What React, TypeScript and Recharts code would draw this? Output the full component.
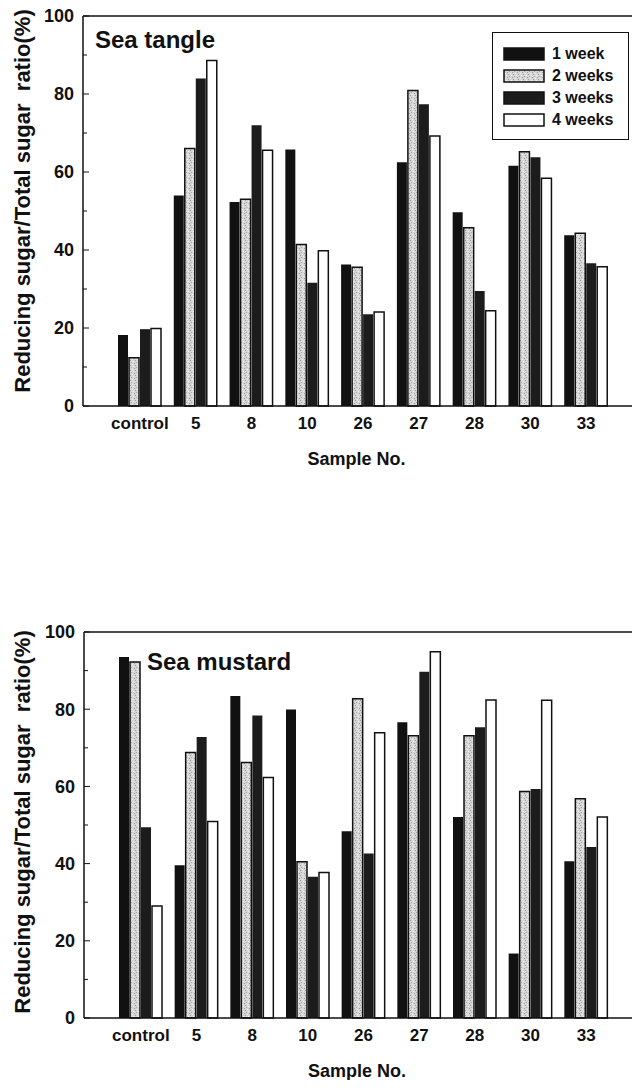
import { BarChart, Bar, XAxis, YAxis, ReferenceLine, Legend } from 'recharts';

const samples = ['control', '5', '8', '10', '26', '27', '28', '30', '33'];
const weekNames = ['1 week', '2 weeks', '3 weeks', '4 weeks'];
const yTicks = [0, 10, 20, 30, 40, 50, 60, 70, 80, 90, 100];

// Sea tangle
const tangleWeek1 = [18.2, 54, 52.3, 65.8, 36.3, 62.5, 49.7, 61.6, 43.8];
const tangleWeek2 = [12.4, 66, 53, 41.4, 35.6, 80.9, 45.7, 65.2, 44.3];
const tangleWeek3 = [19.7, 84, 72, 31.6, 23.5, 77.4, 29.5, 63.8, 36.6];
const tangleWeek4 = [19.9, 88.6, 65.6, 39.8, 24.1, 69.2, 24.4, 58.4, 35.7];

// Sea mustard
const mustardWeek1 = [93.5, 39.6, 83.4, 79.9, 48.4, 76.6, 52.1, 16.7, 40.6];
const mustardWeek2 = [92.2, 68.8, 66.2, 40.5, 82.7, 73.1, 73.1, 58.7, 56.8];
const mustardWeek3 = [49.4, 72.8, 78.4, 36.6, 42.6, 89.7, 75.3, 59.3, 44.3];
const mustardWeek4 = [29, 50.9, 62.3, 37.7, 73.9, 94.9, 82.4, 82.3, 52.1];

const FONT = '"Liberation Sans", Arial, Helvetica, sans-serif';
const INK = '#111';

const seriesStyle = [
  { fill: INK, stroke: 'none', strokeWidth: 0 },
  { fill: 'url(#stipple)', stroke: INK, strokeWidth: 1.5 },
  { fill: '#1c1c1c', stroke: 'none', strokeWidth: 0 },
  { fill: '#fff', stroke: INK, strokeWidth: 1.5 },
];

function buildRows(weeks: number[][]) {
  return samples.map((name, i) => ({
    name,
    w1: weeks[0][i],
    w2: weeks[1][i],
    w3: weeks[2][i],
    w4: weeks[3][i],
  }));
}

function YTick({ x, y, payload }: any) {
  const v = payload.value;
  const major = v % 20 === 0;
  return (
    <g>
      <line x1={x} x2={x + (major ? 6 : 4)} y1={y} y2={y} stroke={INK} strokeWidth={1} />
      {major && (
        <text
          x={x - 9}
          y={y}
          dy="0.36em"
          textAnchor="end"
          fill={INK}
          style={{ fontFamily: FONT, fontWeight: 700, fontSize: 18 }}
        >
          {v}
        </text>
      )}
    </g>
  );
}

function LegendBox() {
  return (
    <div
      style={{
        border: `1.5px solid ${INK}`,
        background: '#fff',
        padding: '10px 0 8px 10px',
        boxSizing: 'border-box',
        width: 137,
        fontFamily: FONT,
        fontWeight: 700,
        fontSize: 16,
        color: INK,
      }}
    >
      {weekNames.map((w, i) => (
        <div key={w} style={{ display: 'flex', alignItems: 'center', height: 22 }}>
          <svg width={42} height={14} style={{ marginRight: 7 }}>
            <rect
              x={1}
              y={1}
              width={40}
              height={12}
              fill={seriesStyle[i].fill}
              stroke={INK}
              strokeWidth={1.5}
            />
          </svg>
          <span>{w}</span>
        </div>
      ))}
    </div>
  );
}

interface PanelProps {
  title: string;
  weeks: number[][];
  height: number;
  top: number;
  bottom: number;
  axisWidth: number;
  labelDy: number;
  titleX: number;
  titleY: number;
  showLegend?: boolean;
}

function Panel({ title, weeks, height, top, bottom, axisWidth, labelDy, titleX, titleY, showLegend }: PanelProps) {
  const data = buildRows(weeks);
  return (
    <div style={{ position: 'relative', width: 640, height }}>
      <BarChart
        width={640}
        height={height}
        data={data}
        margin={{ top, right: 0, left: 0, bottom }}
        barSize={10}
        barGap={1}
      >
        <XAxis
          dataKey="name"
          height={70}
          padding={{ left: 29, right: 26 }}
          axisLine={{ stroke: INK, strokeWidth: 1.5 }}
          tickLine={false}
          tickSize={0}
          tickMargin={11}
          tick={{ fill: INK, fontFamily: FONT, fontWeight: 700, fontSize: 17 }}
          interval={0}
          label={{
            value: 'Sample No.',
            position: 'insideBottom',
            offset: 11,
            dx: -5,
            fill: INK,
            style: { fontFamily: FONT, fontWeight: 700, fontSize: 18 },
          }}
        />
        <YAxis
          width={axisWidth}
          domain={[0, 100]}
          ticks={yTicks}
          interval={0}
          axisLine={{ stroke: INK, strokeWidth: 1.5 }}
          tickLine={false}
          tickSize={0}
          tickMargin={0}
          tick={<YTick />}
          label={{
            value: 'Reducing sugar/Total sugar\u00a0\u00a0ratio(%)',
            angle: -90,
            position: 'center',
            dx: 22 - axisWidth / 2,
            dy: labelDy,
            fill: INK,
            style: { fontFamily: FONT, fontWeight: 700, fontSize: 22 },
          }}
        />
        <ReferenceLine y={100} stroke={INK} strokeWidth={1.5} />
        {showLegend && (
          <Legend
            layout="horizontal"
            verticalAlign="middle"
            align="center"
            content={() => <LegendBox />}
            wrapperStyle={{ position: 'absolute', top: 32, left: 492, width: 137 }}
          />
        )}
        {['w1', 'w2', 'w3', 'w4'].map((k, i) => (
          <Bar
            key={k}
            dataKey={k}
            name={weekNames[i]}
            fill={seriesStyle[i].fill}
            stroke={seriesStyle[i].stroke}
            strokeWidth={seriesStyle[i].strokeWidth}
            isAnimationActive={false}
          />
        ))}
      </BarChart>
      <svg
        width={640}
        height={height}
        style={{ position: 'absolute', left: 0, top: 0, pointerEvents: 'none' }}
      >
        <text
          x={titleX}
          y={titleY}
          fill={INK}
          style={{ fontFamily: FONT, fontWeight: 700, fontSize: 24 }}
        >
          {title}
        </text>
      </svg>
    </div>
  );
}

export default function App() {
  return (
    <div style={{ margin: -8, width: 640, height: 1088, background: '#fff', overflow: 'hidden' }}>
      <svg width={0} height={0} style={{ position: 'absolute' }}>
        <defs>
          <pattern id="stipple" width={5} height={5} patternUnits="userSpaceOnUse">
            <rect width={5} height={5} fill="#d6d6d6" />
            <rect x={0} y={0} width={1} height={1} fill="#9a9a9a" />
            <rect x={3} y={1} width={1} height={1} fill="#f4f4f4" />
            <rect x={1} y={2} width={1} height={1} fill="#a8a8a8" />
            <rect x={4} y={3} width={1} height={1} fill="#9a9a9a" />
            <rect x={2} y={4} width={1} height={1} fill="#f0f0f0" />
          </pattern>
        </defs>
      </svg>
      <Panel
        title="Sea tangle"
        weeks={[tangleWeek1, tangleWeek2, tangleWeek3, tangleWeek4]}
        height={540}
        top={16}
        bottom={64}
        axisWidth={83}
        labelDy={-10}
        titleX={95}
        titleY={48}
        showLegend
      />
      <Panel
        title="Sea mustard"
        weeks={[mustardWeek1, mustardWeek2, mustardWeek3, mustardWeek4]}
        height={548}
        top={92}
        bottom={0}
        axisWidth={84}
        labelDy={-3}
        titleX={147}
        titleY={130}
      />
    </div>
  );
}
